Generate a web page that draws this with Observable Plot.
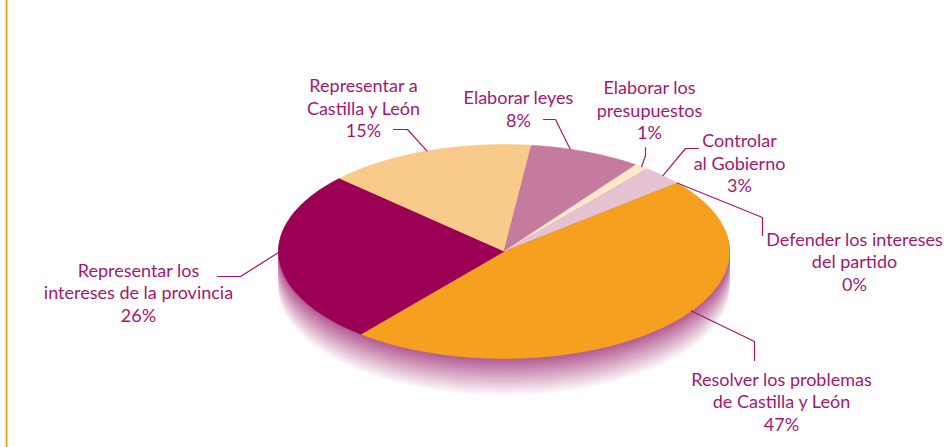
<!DOCTYPE html>
<html><head><meta charset="utf-8">
<script src="https://cdn.jsdelivr.net/npm/d3@7"></script>
<script src="https://cdn.jsdelivr.net/npm/@observablehq/plot@0.6"></script>
<style>
body{margin:0;background:#fff;}
#chart{width:944px;height:447px;overflow:hidden;}
</style></head><body><div id="chart"></div>
<script>
// ---- data ----
const categories = ["Representar a Castilla y León","Elaborar leyes","Elaborar los presupuestos","Controlar al Gobierno","Defender los intereses del partido","Resolver los problemas de Castilla y León","Representar los intereses de la provincia"];
const labelLines = [["Representar a","Castilla y León"],["Elaborar leyes"],["Elaborar los","presupuestos"],["Controlar","al Gobierno"],["Defender los intereses","del partido"],["Resolver los problemas","de Castilla y León"],["Representar los","intereses de la provincia"]];
const values = [15, 8, 1, 3, 0, 47, 26];
const sliceColors = ["#f9cb8b","#c47b9e","#fde8c8","#e5c3d3","#e5c3d3","#f5a01f","#9b0055"];

// ---- layout (pixels) ----
const W = 944, H = 447, CX = 503.5, CY = 251, RX = 225.5, RY = 107, DEPTH = 38;
const START_DEG = -47; // d3 angle (clockwise from 12 o'clock)
const labelX = [363, 518, 649, 739, 854, 781, 138];
const labelY = [107, 108, 109, 162, 260.5, 400.5, 291.5];
const leaderFrac = [0.5, 0.35, 0.5, 0.5, 0.5, 0.435, 0.535];
const elbows = [[407,129],[555,119],[645,155],[685,148],[762,217],[754,341],[240,276]];
const ends = [[393,129],[543,119],[645,147],[698,148],[762,235],[754,360],[217,276]];
const TEXT = "#a0196e";

const ux = px => (px - CX) / RX;
const uy = py => (CY - py) / RY;

const s0 = START_DEG * Math.PI / 180;
const arcs = d3.pie().sort(null).value(d => d.value).startAngle(s0).endAngle(s0 + 2 * Math.PI)(
  categories.map((c, i) => ({c, i, value: values[i]}))
);

// slices
const slicePts = [];
arcs.forEach(a => {
  if (a.endAngle - a.startAngle <= 0) return;
  const i = a.data.i;
  slicePts.push({k: i, x: 0, y: 0, color: sliceColors[i]});
  const n = Math.max(4, Math.ceil((a.endAngle - a.startAngle) / 0.01));
  for (let j = 0; j <= n; j++) {
    const p = a.startAngle + (a.endAngle - a.startAngle) * j / n;
    slicePts.push({k: i, x: Math.sin(p), y: Math.cos(p), color: sliceColors[i]});
  }
});

// depth (fading side)
const sideColor = d3.interpolateRgb("#b35a90", "#ffffff");
const sidePts = [];
for (let k = DEPTH; k >= 1; k--) {
  const col = sideColor(k / DEPTH);
  for (let j = 0; j <= 240; j++) {
    const p = 2 * Math.PI * j / 240;
    sidePts.push({k, x: Math.sin(p), y: Math.cos(p) - k / RY, color: col});
  }
}

// leaders
const leaderPts = [];
arcs.forEach(a => {
  const i = a.data.i;
  const p = a.startAngle + (a.endAngle - a.startAngle) * leaderFrac[i];
  leaderPts.push({k: i, x: Math.sin(p), y: Math.cos(p)});
  leaderPts.push({k: i, x: ux(elbows[i][0]), y: uy(elbows[i][1])});
  leaderPts.push({k: i, x: ux(ends[i][0]), y: uy(ends[i][1])});
});

const labels = categories.map((c, i) => ({
  text: labelLines[i].join("\n") + "\n" + values[i] + "%",
  x: ux(labelX[i]), y: uy(labelY[i])
}));

const chart = Plot.plot({
  width: W, height: H, margin: 0,
  style: {background: "#fff", fontFamily: "Lato, 'Open Sans', sans-serif"},
  x: {axis: null, domain: [-1, 1], range: [CX - RX, CX + RX]},
  y: {axis: null, domain: [-1, 1], range: [CY + RY, CY - RY]},
  color: {type: "identity"},
  marks: [
    Plot.ruleX([ux(6)], {stroke: "#f5a52a", strokeWidth: 2}),
    Plot.line(sidePts, {x: "x", y: "y", z: "k", fill: "color", stroke: "color", strokeWidth: 0.6}),
    Plot.line(slicePts, {x: "x", y: "y", z: "k", fill: "color", stroke: "color", strokeWidth: 0.5}),
    Plot.line(leaderPts, {x: "x", y: "y", z: "k", stroke: TEXT, strokeWidth: 1.2}),
    Plot.text(labels, {x: "x", y: "y", text: "text", fill: TEXT, fontSize: 18, lineHeight: 1.25, textAnchor: "middle", lineAnchor: "middle"})
  ]
});
document.getElementById("chart").append(chart);
</script>
</body></html>
